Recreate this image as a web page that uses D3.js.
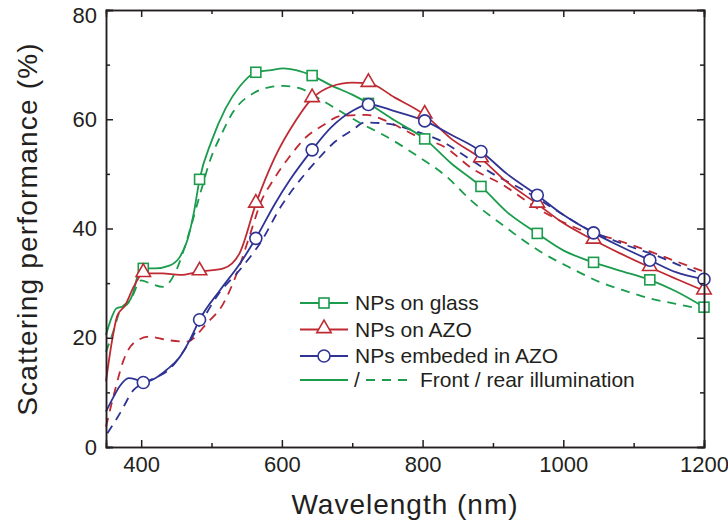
<!DOCTYPE html>
<html>
<head>
<meta charset="utf-8">
<script src="https://cdn.jsdelivr.net/npm/d3@7"></script>
<style>
  body { margin: 0; background: #fff; }
  svg text { font-family: "Liberation Sans", Arial, sans-serif; fill: #231f20; }
</style>
</head>
<body>
<div id="chart"></div>
<script>
// wavelength (nm) / scattering (%) pairs
var glassFront = [[350,20.5],[356,23],[365,25.4],[377,25.8],[388,28],[398,32.4],[403,32.7],[420,32.7],[440,33.2],[455,34.8],[466,38],[475,43],[483,49],[500,56],[520,62],[540,66],[563,68.6],[585,69],[602,69.3],[620,69],[643,68],[670,66.2],[700,64.5],[723,62.9],[760,59.8],[803,56.4],[840,52],[883,47.7],[920,43],[963,39.1],[1000,36],[1043,33.8],[1080,32.3],[1123,30.6],[1160,28.5],[1200,25.6]];
var glassRear = [[350,17.4],[360,21],[370,25],[385,27],[400,30.5],[412,30],[431,29.3],[450,32.4],[465,37.9],[484,46.4],[498,52.5],[515,57.5],[531,61.4],[560,64.8],[580,65.8],[602,66.1],[625,65.7],[650,64],[680,61.7],[710,59.4],[749,56.8],[790,53.5],[834,49.5],[870,45],[910,41],[967,35.8],[1010,32.8],[1052,30.2],[1090,28.5],[1123,27.2],[1160,26.2],[1200,25.2]];
var azoFront = [[350,12],[358,19],[366,24],[377,25.9],[390,29.5],[403,31.8],[430,31.8],[455,31.5],[483,32.1],[517,32.7],[540,35.5],[563,44.5],[590,53],[620,59.8],[643,63.8],[670,66],[700,66.7],[723,66.6],[760,64],[803,60.8],[840,56.5],[883,52.8],[920,48.5],[963,44.5],[1000,41],[1043,37.9],[1080,35.5],[1123,32.9],[1160,30.8],[1200,28.6]];
var azoRear = [[350,3.7],[362,10],[375,15.9],[389,19],[412,20.2],[436,19.6],[465,19.3],[493,22.6],[517,26.3],[536,31.8],[555,39],[570,44.8],[588,48.9],[610,53],[635,56.8],[660,59],[683,60.6],[720,60.8],[750,59.6],[790,57],[834,54.7],[870,51],[910,48.3],[967,43.4],[1020,40],[1076,37.9],[1123,35.8],[1160,34],[1200,32.1]];
var embFront = [[350,6.5],[360,9],[370,11.2],[382,12.6],[392,12.4],[403,11.8],[420,12.6],[436,14.1],[455,16.5],[470,19.8],[483,23.3],[512,28.7],[540,33.5],[563,38.2],[590,44.5],[612,49],[643,54.4],[670,58.5],[700,61.5],[723,62.7],[760,61.5],[803,59.7],[840,57.2],[883,54.1],[920,50],[963,46.1],[1000,42.5],[1043,39.2],[1080,36.8],[1123,34.2],[1160,32],[1200,30.7]];
var embRear = [[352,2.5],[370,6.2],[389,10.4],[405,11.8],[422,12.8],[440,14.2],[460,17.5],[485,22.8],[510,28],[540,32.4],[570,37.5],[600,44.3],[626,48.9],[650,52.5],[673,55.6],[700,58],[718,59.4],[749,59.2],[790,57.8],[834,55.5],[853,53.9],[900,50],[948,46.7],[1000,42.5],[1024,40.6],[1080,37.4],[1137,34.8],[1170,33],[1200,31.5]];
var markerNm = [403,483,563,643,723,803,883,963,1043,1123,1200];
var legendLabels = ["NPs on glass","NPs on AZO","NPs embeded in AZO"];
var xMajor = [400,600,800,1000,1200], xMinor = [500,700,900,1100];
var yMajor = [0,20,40,60,80], yMinor = [10,30,50,70];

var green = "#1a9c4c", red = "#bf2a32", blue = "#2f3393";
var series = [
  {front: glassFront, rear: glassRear, color: green, marker: "square"},
  {front: azoFront, rear: azoRear, color: red, marker: "triangle"},
  {front: embFront, rear: embRear, color: blue, marker: "circle"}
];

var W = 728, H = 529;
var margin = {top: 10, right: 24, bottom: 82, left: 106};
var width = W - margin.left - margin.right, height = H - margin.top - margin.bottom;

var svg = d3.select("#chart").append("svg").attr("width", W).attr("height", H)
  .append("g").attr("transform", "translate(" + margin.left + "," + margin.top + ")");

var x = d3.scaleLinear().domain([350,1200]).range([0,width]);
var y = d3.scaleLinear().domain([0,80]).range([height,0]);

var line = d3.line().x(function(d){ return x(d[0]); }).y(function(d){ return y(d[1]); })
  .curve(d3.curveMonotoneX);

// value of a series at wavelength nm (linear between read points) - used only to sit markers on the line
function valueAt(arr, nm) {
  for (var i = 1; i < arr.length; i++) {
    if (arr[i][0] >= nm) {
      var a = arr[i-1], b = arr[i], t = (nm - a[0]) / (b[0] - a[0]);
      return a[1] + t * (b[1] - a[1]);
    }
  }
  return arr[arr.length-1][1];
}

function drawMarker(g, type, cx, cy, color) {
  if (type == "square") {
    g.append("rect").attr("x", cx-5).attr("y", cy-5).attr("width", 10).attr("height", 10)
      .attr("fill", "#fff").attr("stroke", color).attr("stroke-width", 1.6);
  } else if (type == "triangle") {
    g.append("path").attr("d", d3.symbol().type(d3.symbolTriangle).size(90)())
      .attr("transform", "translate(" + cx + "," + (cy-1) + ")")
      .attr("fill", "#fff").attr("stroke", color).attr("stroke-width", 1.6);
  } else {
    g.append("circle").attr("cx", cx).attr("cy", cy).attr("r", 6)
      .attr("fill", "#fff").attr("stroke", color).attr("stroke-width", 1.6);
  }
}

var plot = svg.append("g");
series.forEach(function(s) {
  plot.append("path").datum(s.rear).attr("d", line).attr("fill", "none")
    .attr("stroke", s.color).attr("stroke-width", 1.8).attr("stroke-dasharray", "9,7");
});
series.forEach(function(s) {
  plot.append("path").datum(s.front).attr("d", line).attr("fill", "none")
    .attr("stroke", s.color).attr("stroke-width", 1.8);
});
series.forEach(function(s) {
  markerNm.forEach(function(nm) {
    drawMarker(plot, s.marker, x(nm), y(valueAt(s.front, nm)), s.color);
  });
});

// axes, ticks pointing inwards on all four sides
function styleAxis(g) {
  g.select(".domain").attr("stroke", "#231f20").attr("stroke-width", 1.5);
  g.selectAll(".tick line").attr("stroke", "#231f20").attr("stroke-width", 1.5);
  g.selectAll(".tick text").attr("font-size", "22px").attr("fill", "#231f20")
    .style("font-family", "Liberation Sans, Arial, sans-serif");
}
svg.append("g").attr("transform", "translate(0," + height + ")")
  .call(d3.axisBottom(x).tickValues(xMajor).tickSize(-7).tickPadding(9).tickFormat(d3.format("d"))).call(styleAxis);
svg.append("g").attr("transform", "translate(0," + height + ")")
  .call(d3.axisBottom(x).tickValues(xMinor).tickSize(-4).tickFormat("")).call(styleAxis);
svg.append("g").call(d3.axisTop(x).tickValues(xMajor).tickSize(-7).tickFormat("")).call(styleAxis);
svg.append("g").call(d3.axisTop(x).tickValues(xMinor).tickSize(-4).tickFormat("")).call(styleAxis);
var yAxis = svg.append("g").call(d3.axisLeft(y).tickValues(yMajor).tickSize(-7).tickPadding(9)).call(styleAxis);
// the top label sits a little lower so it stays inside the picture
yAxis.selectAll(".tick text").filter(function(d){ return d == 80; }).attr("dy", "0.55em");
svg.append("g").call(d3.axisLeft(y).tickValues(yMinor).tickSize(-4).tickFormat("")).call(styleAxis);
svg.append("g").attr("transform", "translate(" + width + ",0)")
  .call(d3.axisRight(y).tickValues(yMajor).tickSize(-7).tickFormat("")).call(styleAxis);
svg.append("g").attr("transform", "translate(" + width + ",0)")
  .call(d3.axisRight(y).tickValues(yMinor).tickSize(-4).tickFormat("")).call(styleAxis);

// axis titles
svg.append("text").attr("x", width/2).attr("y", height + 67).attr("text-anchor", "middle")
  .attr("font-size", "28px").attr("letter-spacing", "1px").text("Wavelength (nm)");
svg.append("text").attr("transform", "rotate(-90)").attr("x", -219).attr("y", -69)
  .attr("text-anchor", "middle").attr("font-size", "28px").attr("letter-spacing", "1.2px")
  .text("Scattering performance (%)");

// legend
var leg = svg.append("g").attr("transform", "translate(" + (300 - margin.left) + "," + (303 - margin.top) + ")");
series.forEach(function(s, i) {
  var ly = i * 26.5;
  leg.append("line").attr("x1", 0).attr("x2", 48).attr("y1", ly).attr("y2", ly)
    .attr("stroke", s.color).attr("stroke-width", 1.8);
  drawMarker(leg, s.marker, 24, ly, s.color);
  leg.append("text").attr("x", 55).attr("y", ly + 7).attr("font-size", "21px").text(legendLabels[i]);
});
var ly4 = 77;
leg.append("line").attr("x1", 0).attr("x2", 48).attr("y1", ly4).attr("y2", ly4)
  .attr("stroke", green).attr("stroke-width", 1.8);
leg.append("text").attr("x", 54).attr("y", ly4 + 7).attr("font-size", "21px").text("/");
leg.append("line").attr("x1", 66).attr("x2", 114).attr("y1", ly4).attr("y2", ly4)
  .attr("stroke", green).attr("stroke-width", 1.8).attr("stroke-dasharray", "9,7");
leg.append("text").attr("x", 120).attr("y", ly4 + 7).attr("font-size", "21px").text("Front / rear illumination");
</script>
</body>
</html>
